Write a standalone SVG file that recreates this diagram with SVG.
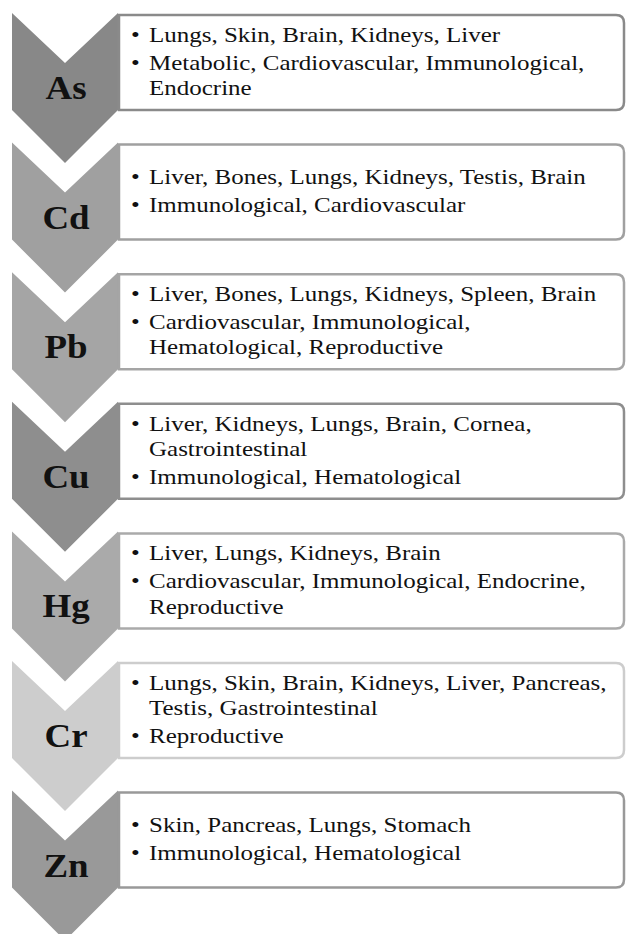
<svg xmlns="http://www.w3.org/2000/svg" width="626" height="934" viewBox="0 0 626 934">
<style>
.t{font-family:"Liberation Serif","Times New Roman",serif;font-size:22px;fill:#111}
.l{font-family:"Liberation Serif","Times New Roman",serif;font-size:33px;font-weight:bold;fill:#111;text-anchor:middle}
.box{fill:#fff;stroke-width:2.5}
</style>
<rect width="626" height="934" fill="#fff"/>
<g id="connectors"/>
<g id="as">
<polygon points="12,13 65,63 118,13 118,110 65,163 12,110" fill="#888888"/>
<path class="box" stroke="#8a8a8a" d="M119,15 H616 Q624,15 624,23 V102 Q624,110 616,110 H119 Z"/>
<text class="l" transform="translate(66,99) scale(1.12,1)">As</text>
<text class="t" transform="translate(131,41.5) scale(1.136,1)">•</text>
<text class="t" transform="translate(149,41.5) scale(1.136,1)">Lungs, Skin, Brain, Kidneys, Liver</text>
<text class="t" transform="translate(131,69.5) scale(1.136,1)">•</text>
<text class="t" transform="translate(149,69.5) scale(1.136,1)">Metabolic, Cardiovascular, Immunological,</text>
<text class="t" transform="translate(149,95) scale(1.136,1)">Endocrine</text>
</g>
<g id="cd">
<polygon points="12,142.6 65,192.6 118,142.6 118,239.6 65,292.6 12,239.6" fill="#a0a0a0"/>
<path class="box" stroke="#a0a0a0" d="M119,144.6 H616 Q624,144.6 624,152.6 V231.6 Q624,239.6 616,239.6 H119 Z"/>
<text class="l" transform="translate(66,228.6) scale(1.12,1)">Cd</text>
<text class="t" transform="translate(131,184.1) scale(1.136,1)">•</text>
<text class="t" transform="translate(149,184.1) scale(1.136,1)">Liver, Bones, Lungs, Kidneys, Testis, Brain</text>
<text class="t" transform="translate(131,212.1) scale(1.136,1)">•</text>
<text class="t" transform="translate(149,212.1) scale(1.136,1)">Immunological, Cardiovascular</text>
</g>
<g id="pb">
<polygon points="12,272.2 65,322.2 118,272.2 118,369.2 65,422.2 12,369.2" fill="#a5a5a5"/>
<path class="box" stroke="#a5a5a5" d="M119,274.2 H616 Q624,274.2 624,282.2 V361.2 Q624,369.2 616,369.2 H119 Z"/>
<text class="l" transform="translate(66,358.2) scale(1.12,1)">Pb</text>
<text class="t" transform="translate(131,300.9) scale(1.136,1)">•</text>
<text class="t" transform="translate(149,300.9) scale(1.136,1)">Liver, Bones, Lungs, Kidneys, Spleen, Brain</text>
<text class="t" transform="translate(131,328.9) scale(1.136,1)">•</text>
<text class="t" transform="translate(149,328.9) scale(1.136,1)">Cardiovascular, Immunological,</text>
<text class="t" transform="translate(149,354.4) scale(1.136,1)">Hematological, Reproductive</text>
</g>
<g id="cu">
<polygon points="12,401.8 65,451.8 118,401.8 118,498.8 65,551.8 12,498.8" fill="#8e8e8e"/>
<path class="box" stroke="#8e8e8e" d="M119,403.8 H616 Q624,403.8 624,411.8 V490.4 Q624,498.8 616,498.8 H119 Z"/>
<text class="l" transform="translate(66,487.8) scale(1.12,1)">Cu</text>
<text class="t" transform="translate(131,430.5) scale(1.136,1)">•</text>
<text class="t" transform="translate(149,430.5) scale(1.136,1)">Liver, Kidneys, Lungs, Brain, Cornea,</text>
<text class="t" transform="translate(149,456) scale(1.136,1)">Gastrointestinal</text>
<text class="t" transform="translate(131,484) scale(1.136,1)">•</text>
<text class="t" transform="translate(149,484) scale(1.136,1)">Immunological, Hematological</text>
</g>
<g id="hg">
<polygon points="12,531.4 65,581.4 118,531.4 118,628.4 65,681.4 12,628.4" fill="#aaaaaa"/>
<path class="box" stroke="#aaaaaa" d="M119,533.4 H616 Q624,533.4 624,541.4 V620.4 Q624,628.4 616,628.4 H119 Z"/>
<text class="l" transform="translate(66,617.4) scale(1.12,1)">Hg</text>
<text class="t" transform="translate(131,560.1) scale(1.136,1)">•</text>
<text class="t" transform="translate(149,560.1) scale(1.136,1)">Liver, Lungs, Kidneys, Brain</text>
<text class="t" transform="translate(131,588.1) scale(1.136,1)">•</text>
<text class="t" transform="translate(149,588.1) scale(1.136,1)">Cardiovascular, Immunological, Endocrine,</text>
<text class="t" transform="translate(149,613.6) scale(1.136,1)">Reproductive</text>
</g>
<g id="cr">
<polygon points="12,661 65,711 118,661 118,758 65,811 12,758" fill="#cdcdcd"/>
<path class="box" stroke="#cdcdcd" d="M119,663 H616 Q624,663 624,671 V750 Q624,758 616,758 H119 Z"/>
<text class="l" transform="translate(66,747) scale(1.12,1)">Cr</text>
<text class="t" transform="translate(131,689.7) scale(1.136,1)">•</text>
<text class="t" transform="translate(149,689.7) scale(1.136,1)">Lungs, Skin, Brain, Kidneys, Liver, Pancreas,</text>
<text class="t" transform="translate(149,715.2) scale(1.136,1)">Testis, Gastrointestinal</text>
<text class="t" transform="translate(131,743.2) scale(1.136,1)">•</text>
<text class="t" transform="translate(149,743.2) scale(1.136,1)">Reproductive</text>
</g>
<g id="zn">
<polygon points="12,790.6 65,840.6 118,790.6 118,887.6 65,940.6 12,887.6" fill="#999999"/>
<path class="box" stroke="#999999" d="M119,792.6 H616 Q624,792.6 624,800.6 V879.6 Q624,887.6 616,887.6 H119 Z"/>
<text class="l" transform="translate(66,876.6) scale(1.12,1)">Zn</text>
<text class="t" transform="translate(131,832.1) scale(1.136,1)">•</text>
<text class="t" transform="translate(149,832.1) scale(1.136,1)">Skin, Pancreas, Lungs, Stomach</text>
<text class="t" transform="translate(131,860.1) scale(1.136,1)">•</text>
<text class="t" transform="translate(149,860.1) scale(1.136,1)">Immunological, Hematological</text>
</g>
</svg>
